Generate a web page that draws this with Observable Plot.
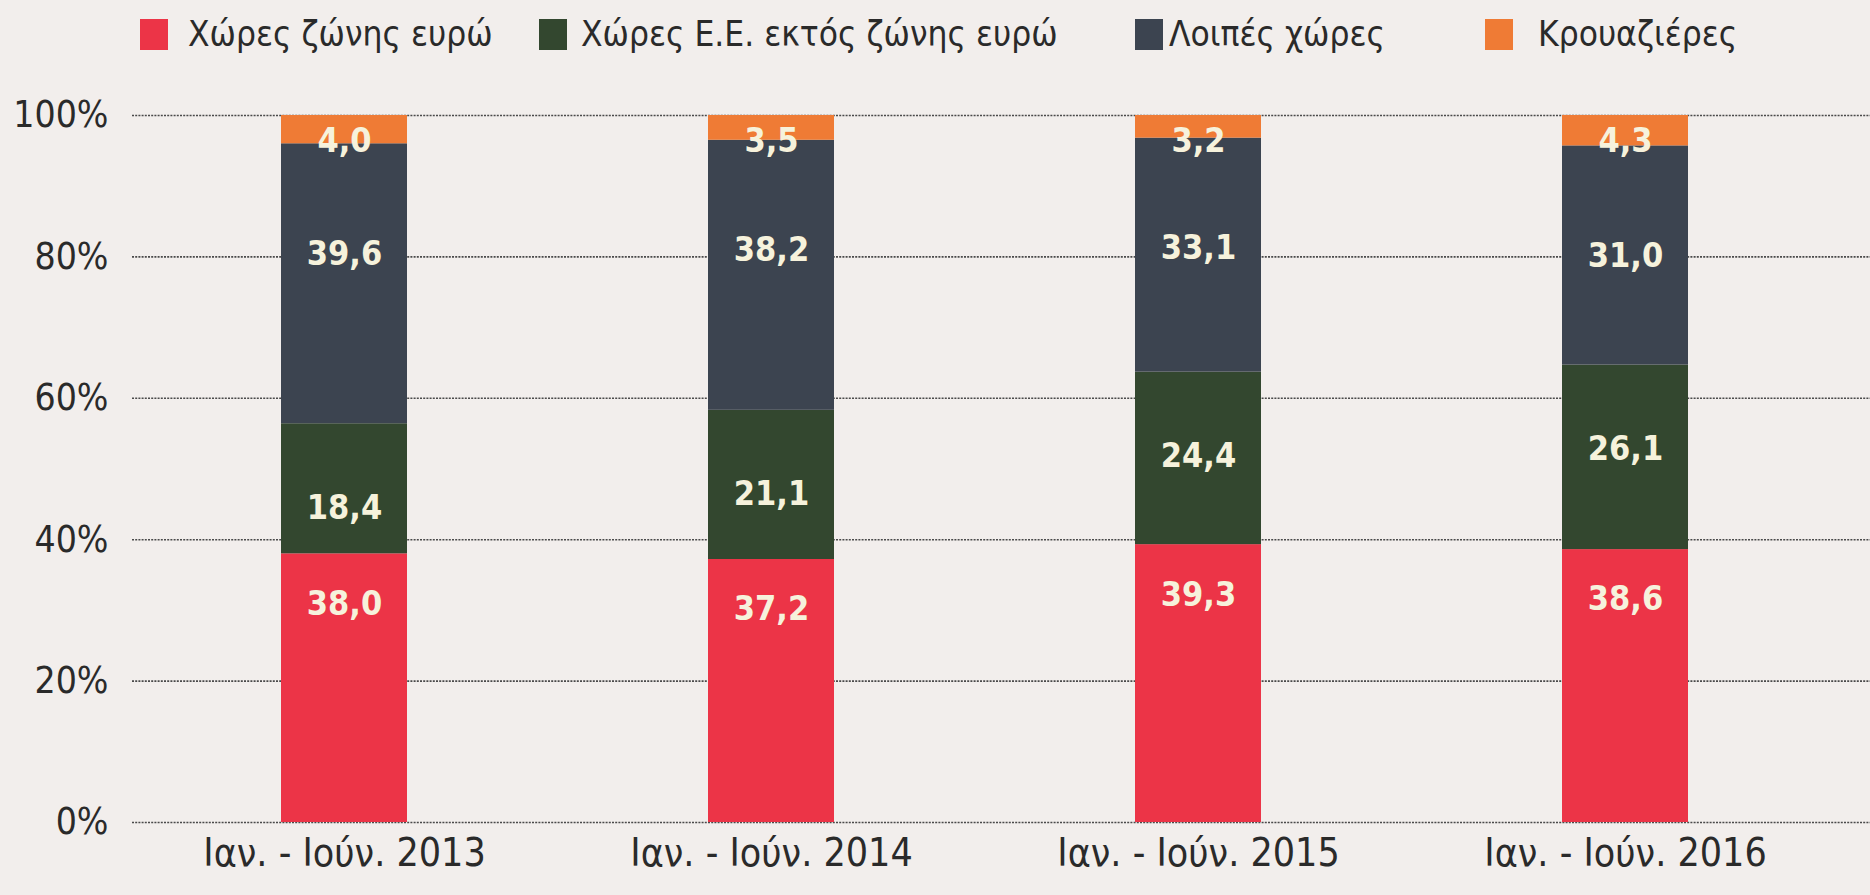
<!DOCTYPE html>
<html>
<head>
<meta charset="utf-8">
<script src="https://cdn.jsdelivr.net/npm/d3@7"></script>
<script src="https://cdn.jsdelivr.net/npm/@observablehq/plot@0.6"></script>
<style>
  html, body { margin: 0; padding: 0; background: #f2eeec; }
  body { width: 1870px; height: 895px; overflow: hidden; font-family: "DejaVu Sans Condensed", sans-serif; }
  #legend { position: relative; height: 70px; }
  .item { position: absolute; top: 14px; display: flex; align-items: center; font-size: 35px; color: #2a2a2a; white-space: nowrap; }
  .sw { width: 28px; height: 31px; }
  #chart svg { display: block; }
</style>
</head>
<body>
<div id="legend"></div>
<div id="chart"></div>
<script>
const periods = ["Ιαν. - Ιούν. 2013", "Ιαν. - Ιούν. 2014", "Ιαν. - Ιούν. 2015", "Ιαν. - Ιούν. 2016"];
const categories = ["Χώρες ζώνης ευρώ", "Χώρες Ε.Ε. εκτός ζώνης ευρώ", "Λοιπές χώρες", "Κρουαζιέρες"];
const euroZone   = [38.0, 37.2, 39.3, 38.6];
const euNonEuro  = [18.4, 21.1, 24.4, 26.1];
const otherCountries = [39.6, 38.2, 33.1, 31.0];
const cruises    = [4.0, 3.5, 3.2, 4.3];
const yTicks = [0, 20, 40, 60, 80, 100];

const colors = ["#ec3447", "#33472f", "#3c4450", "#ef7b35"];
const labelDy = [50, 84, 110, 26];
const legendX = [140, 539, 1135, 1485];
const legendGap = [20, 14, 6, 25];

const series = [euroZone, euNonEuro, otherCountries, cruises];
const rows = [];
categories.forEach((c, ci) => periods.forEach((p, pi) => rows.push({period: p, cat: c, value: series[ci][pi]})));
const fmt = v => v.toFixed(1).replace(".", ",");

// legend
const leg = document.getElementById("legend");
categories.forEach((c, i) => {
  const it = document.createElement("div");
  it.className = "item";
  it.style.left = legendX[i] + "px";
  const sw = document.createElement("div");
  sw.className = "sw";
  sw.style.background = colors[i];
  sw.style.marginRight = legendGap[i] + "px";
  it.appendChild(sw);
  it.appendChild(document.createTextNode(c));
  leg.appendChild(it);
});

const stackOpts = {x: "period", y: "value", z: "cat", order: categories};

const plot = Plot.plot({
  width: 1870,
  height: 825,
  marginLeft: 132,
  marginRight: 0,
  marginTop: 45,
  marginBottom: 73,
  style: {background: "transparent", fontFamily: "\"DejaVu Sans Condensed\", sans-serif", color: "#2a2a2a"},
  x: {domain: periods, range: [280, 1688], paddingInner: 0.705, paddingOuter: 0, label: null},
  y: {domain: [0, 100], label: null},
  color: {domain: categories, range: colors},
  marks: [
    Plot.ruleY(yTicks, {stroke: "#4a4a4a", strokeWidth: 1.6, strokeDasharray: "2,1.2"}),
    Plot.barY(rows, Plot.stackY({...stackOpts, fill: "cat"})),
    ...categories.map((c, i) => Plot.text(rows, Plot.stackY2({
      ...stackOpts,
      text: d => d.cat === c ? fmt(d.value) : "",
      dy: labelDy[i],
      fill: "#f6f2dc",
      fontWeight: "bold",
      fontSize: 34
    }))),
    Plot.axisY(yTicks, {tickSize: 0, tickPadding: 24, tickFormat: d => d + "%", fontSize: 37, fill: "#2a2a2a"}),
    Plot.axisX({tickSize: 0, tickPadding: 16, fontSize: 39, fill: "#2a2a2a"})
  ]
});
document.getElementById("chart").appendChild(plot);
</script>
</body>
</html>
